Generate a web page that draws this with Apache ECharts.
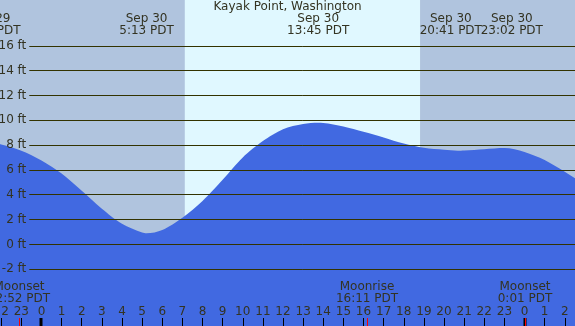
<!DOCTYPE html>
<html><head><meta charset="utf-8">
<script src="https://cdn.jsdelivr.net/npm/echarts@6/dist/echarts.min.js"></script>
<style>html,body{margin:0;padding:0;background:#b0c4de;overflow:hidden}#c{width:575px;height:326px}</style>
</head><body><div id="c"></div>
<script>
// ---- data (hours relative to Sep 30 00:00 PDT) ----
const chartTitle = 'Kayak Point, Washington';
const tideHours = [-2.58, -2, -1, 0, 1, 2, 3, 4, 5, 5.22, 6, 7, 8, 9, 10, 11, 12, 13, 13.75, 14, 15, 16, 17, 18, 19, 20, 20.68, 21, 22, 23, 24, 25, 26, 26.6];
const tideFeet  = [8.13, 8.05, 7.55, 6.76, 5.71, 4.32, 2.88, 1.66, 0.95, 0.89, 1.16, 2.15, 3.5, 5.2, 7.0, 8.32, 9.28, 9.7, 9.8, 9.79, 9.5, 9.08, 8.62, 8.12, 7.78, 7.62, 7.55, 7.57, 7.67, 7.76, 7.45, 6.8, 5.85, 5.23];
const eventHours = [-2.58, 5.22, 13.75, 20.68, 23.03];
const eventDates = ['Sep 29', 'Sep 30', 'Sep 30', 'Sep 30', 'Sep 30'];
const eventTimes = ['21:25 PDT', '5:13 PDT', '13:45 PDT', '20:41 PDT', '23:02 PDT'];
const moonHours = [-1.13, 16.18, 24.02];
const moonNames = ['Moonset', 'Moonrise', 'Moonset'];
const moonTimes = ['22:52 PDT', '16:11 PDT', '0:01 PDT'];
const midnightHours = [0, 24];
const hourTicks = [-2, -1, 0, 1, 2, 3, 4, 5, 6, 7, 8, 9, 10, 11, 12, 13, 14, 15, 16, 17, 18, 19, 20, 21, 22, 23, 24, 25, 26];
const daylight = [[7.12, 18.81]];
const feetTickMin = -2, feetTickMax = 16, feetTickStep = 2;
const hourMin = -2.062, hourMax = 26.509;
const feetMin = -6.575, feetMax = 19.69;

// ---- styles ----
const FONT = 'DejaVu Sans';
const TXT = '#333322';
const LINE = '#333300';
const DAY = '#e0f8ff';
const WATER = '#4169e1';

const chart = echarts.init(document.getElementById('c'), null, {renderer: 'canvas'});

function eventXs(api) {
  const xs = eventHours.map(h => api.coord([h, feetMax])[0]);
  const minGap = 61;
  for (let i = 0; i < xs.length - 1; i++) {
    const gap = xs[i + 1] - xs[i];
    if (gap < minGap) { const d = (minGap - gap) / 2; xs[i] -= d; xs[i + 1] += d; }
  }
  return xs;
}

const option = {
  animation: false,
  backgroundColor: '#b0c4de',
  title: {
    text: chartTitle, left: 'center', top: 0, padding: [1, 0, 0, 0],
    textStyle: {fontFamily: FONT, fontSize: 12, fontWeight: 'normal', color: TXT}
  },
  grid: [
    {left: 0, right: 0, top: 0, bottom: 0, containLabel: false, outerBoundsMode: 'none'},
    {left: 29.3, right: 0, top: 45.8, bottom: 56.8, containLabel: false, outerBoundsMode: 'none'}
  ],
  xAxis: [
    {
      type: 'value', gridIndex: 0, min: hourMin, max: hourMax, z: 10,
      axisLine: {show: false, onZero: false},
      axisTick: {show: true, inside: true, length: 8, customValues: hourTicks, lineStyle: {color: '#000', width: 1}},
      axisLabel: {inside: true, margin: 8, color: TXT, fontFamily: FONT, fontSize: 12, customValues: hourTicks,
        showMinLabel: true, showMaxLabel: true, hideOverlap: false,
        formatter: v => String(((Math.round(v) % 24) + 24) % 24)},
      splitLine: {show: false}
    },
    {type: 'value', gridIndex: 1, min: 0, max: 1, show: false}
  ],
  yAxis: [
    {type: 'value', gridIndex: 0, min: feetMin, max: feetMax, show: false},
    {
      type: 'value', gridIndex: 1, min: feetTickMin, max: feetTickMax, interval: feetTickStep, z: 10,
      axisLine: {show: false}, axisTick: {show: false},
      axisLabel: {formatter: '{value} ft', margin: 3, color: TXT, fontFamily: FONT, fontSize: 12},
      splitLine: {show: true, lineStyle: {color: LINE, width: 1}}
    }
  ],
  series: [
    {
      type: 'custom', xAxisIndex: 0, yAxisIndex: 0, z: 1, silent: true,
      data: daylight,
      renderItem: (params, api) => {
        const p0 = api.coord([api.value(0), feetMax]);
        const p1 = api.coord([api.value(1), feetMin]);
        return {type: 'rect', shape: {x: p0[0], y: p0[1], width: p1[0] - p0[0], height: p1[1] - p0[1]},
          style: {fill: DAY}};
      }
    },
    {
      type: 'line', xAxisIndex: 0, yAxisIndex: 0, z: 2, silent: true,
      data: tideHours.map((h, i) => [h, tideFeet[i]]),
      smooth: 0.3, showSymbol: false, symbol: 'none', clip: false,
      lineStyle: {width: 0, opacity: 0},
      areaStyle: {color: WATER, opacity: 1, origin: 'start'}
    },
    {
      type: 'custom', xAxisIndex: 0, yAxisIndex: 0, z: 12, silent: true,
      data: eventHours.map((h, i) => [h, i]),
      renderItem: (params, api) => {
        const i = params.dataIndex;
        const x = eventXs(api)[i];
        const top = api.coord([eventHours[i], feetMax])[1];
        return {type: 'group', children: [
          {type: 'text', style: {x: x, y: top + 19, text: eventDates[i], align: 'center', verticalAlign: 'middle',
            fill: TXT, font: '12px "' + FONT + '"'}},
          {type: 'text', style: {x: x, y: top + 31, text: eventTimes[i], align: 'center', verticalAlign: 'middle',
            fill: TXT, font: '12px "' + FONT + '"'}}
        ]};
      }
    },
    {
      type: 'custom', xAxisIndex: 0, yAxisIndex: 0, z: 12, silent: true,
      data: midnightHours.map(h => [h]),
      renderItem: (params, api) => {
        const p = api.coord([api.value(0), feetMin]);
        return {type: 'rect', shape: {x: Math.round(p[0]) - 1.5, y: p[1] - 8, width: 3, height: 8}, style: {fill: '#000'}};
      }
    },
    {
      type: 'custom', xAxisIndex: 0, yAxisIndex: 0, z: 13, silent: true,
      data: moonHours.map((h, i) => [h, i]),
      renderItem: (params, api) => {
        const i = params.dataIndex;
        const p = api.coord([moonHours[i], feetMin]);
        const x = Math.round(p[0]);
        return {type: 'group', children: [
          {type: 'rect', shape: {x: x, y: p[1] - 8, width: 1, height: 8}, style: {fill: '#ff0000'}},
          {type: 'text', style: {x: x, y: p[1] - 39, text: moonNames[i], align: 'center', verticalAlign: 'middle',
            fill: TXT, font: '12px "' + FONT + '"'}},
          {type: 'text', style: {x: x, y: p[1] - 27, text: moonTimes[i], align: 'center', verticalAlign: 'middle',
            fill: TXT, font: '12px "' + FONT + '"'}}
        ]};
      }
    }
  ]
};
chart.setOption(option);
</script>
</body></html>
